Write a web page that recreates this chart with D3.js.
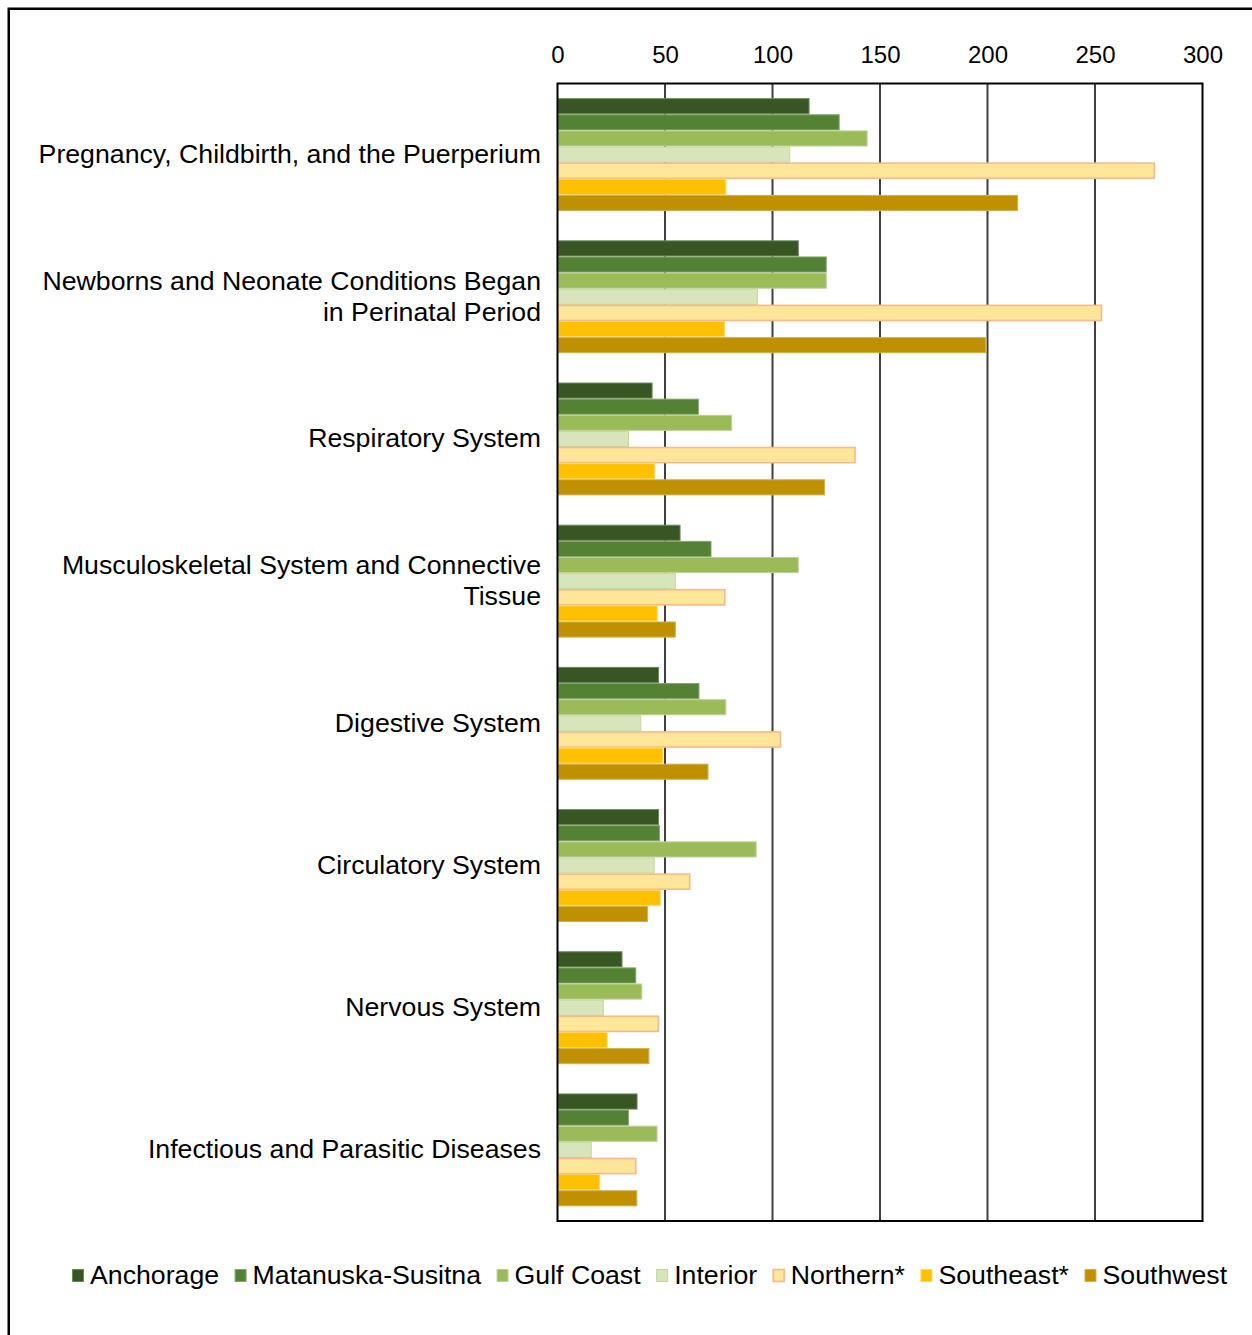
<!DOCTYPE html>
<html>
<head>
<meta charset="utf-8">
<script src="https://cdn.jsdelivr.net/npm/d3@7"></script>
<style>
  html, body { margin: 0; padding: 0; background: #fff; }
  svg { display: block; font-family: "Liberation Sans", Arial, sans-serif; }
</style>
</head>
<body>
<script>
// Discharge categories (top to bottom); "\n" marks a line break in the label
const categories = [
  "Pregnancy, Childbirth, and the Puerperium",
  "Newborns and Neonate Conditions Began\nin Perinatal Period",
  "Respiratory System",
  "Musculoskeletal System and Connective\nTissue",
  "Digestive System",
  "Circulatory System",
  "Nervous System",
  "Infectious and Parasitic Diseases"
];

const regions = ["Anchorage", "Matanuska-Susitna", "Gulf Coast", "Interior", "Northern*", "Southeast*", "Southwest"];

// Values per region, in category order
const anchorage   = [117, 112, 44, 57, 47, 47, 30, 37];
const matSu       = [131, 125, 65.5, 71.4, 65.8, 47.4, 36.4, 33];
const gulfCoast   = [144, 125, 81, 112, 78.3, 92.4, 39.2, 46.3];
const interior    = [108, 93, 33, 54.8, 38.7, 45, 21.3, 15.7];
const northern    = [277.6, 253, 138.4, 77.8, 103.7, 61.5, 46.9, 36.4];
const southeast   = [78.3, 77.7, 45.2, 46.4, 49, 47.8, 23.1, 19.6];
const southwest   = [214, 199.2, 124.2, 54.8, 70, 41.9, 42.5, 36.9];

const xTicks = [0, 50, 100, 150, 200, 250, 300];

const fills   = ["#375623", "#548235", "#9BBB59", "#D8E4BC", "#FFE699", "#FFC000", "#BF9000"];
const strokes = ["#6b8a5a", "#86a56c", "#bdd29a", "#c4d79b", "#F8B98A", "#ffd966", "#d4b04d"];

const seriesValues = [anchorage, matSu, gulfCoast, interior, northern, southeast, southwest];

const W = 1252, H = 1335;
const plot = { left: 557.5, right: 1202.5, top: 83.5, bottom: 1221 };
const labelSize = 26.7;

const svg = d3.select("body").append("svg")
  .attr("width", W).attr("height", H);

// Outer frame
svg.append("rect")
  .attr("x", 8.75).attr("y", 8.75)
  .attr("width", W + 20).attr("height", H + 20)
  .attr("fill", "none").attr("stroke", "#000").attr("stroke-width", 2.5);

const x = d3.scaleLinear().domain([0, 300]).range([plot.left, plot.right]);

const y0 = d3.scaleBand().domain(d3.range(categories.length))
  .range([plot.top, plot.bottom])
  .paddingInner(0.206).paddingOuter(0.103);

const y1 = d3.scaleBand().domain(d3.range(regions.length))
  .range([0, y0.bandwidth()]);

// Vertical gridlines
svg.append("g").selectAll("line")
  .data(xTicks.filter(t => t > 0 && t < 300))
  .join("line")
  .attr("x1", d => x(d)).attr("x2", d => x(d))
  .attr("y1", plot.top).attr("y2", plot.bottom)
  .attr("stroke", "#404040").attr("stroke-width", 2);

// Bars
const groups = svg.append("g").selectAll("g")
  .data(categories.map((c, i) => i))
  .join("g")
  .attr("transform", i => `translate(0,${y0(i)})`);

groups.selectAll("rect")
  .data(i => seriesValues.map((vals, s) => ({ s, v: vals[i] })))
  .join("rect")
  .attr("x", x(0) + 0.5)
  .attr("y", d => y1(d.s) + 0.5)
  .attr("width", d => x(d.v) - x(0) - 0.5)
  .attr("height", y1.bandwidth() - 1)
  .attr("fill", d => fills[d.s])
  .attr("stroke", d => strokes[d.s])
  .attr("stroke-width", d => d.s === 4 ? 1.6 : 1);

// Plot frame
svg.append("rect")
  .attr("x", plot.left).attr("y", plot.top)
  .attr("width", plot.right - plot.left).attr("height", plot.bottom - plot.top)
  .attr("fill", "none").attr("stroke", "#000").attr("stroke-width", 2);

// Top axis labels
const xAxis = d3.axisTop(x).tickValues(xTicks).tickSize(0).tickPadding(0);
const gx = svg.append("g")
  .attr("transform", `translate(0,${plot.top - 21})`)
  .call(xAxis);
gx.select(".domain").remove();
gx.selectAll("text")
  .attr("font-size", 24)
  .attr("font-family", "Liberation Sans, Arial, sans-serif")
  .attr("fill", "#000")
  .attr("dy", 0);

// Category labels
const lineH = 31;
svg.append("g").selectAll("text")
  .data(categories.map((c, i) => ({ c, i })))
  .join("text")
  .attr("text-anchor", "end")
  .attr("font-size", labelSize)
  .attr("fill", "#000")
  .each(function(d) {
    const lines = d.c.split("\n");
    const cy = y0(d.i) + y0.bandwidth() / 2;
    const firstY = cy - (lines.length - 1) * lineH / 2 + 8.5;
    d3.select(this).selectAll("tspan")
      .data(lines)
      .join("tspan")
      .attr("x", 541)
      .attr("y", (l, k) => firstY + k * lineH)
      .text(l => l);
  });

// Legend
const legend = svg.append("g");
let lx = 72;
const ly = 1275;
regions.forEach((r, s) => {
  legend.append("rect")
    .attr("x", lx + 0.5).attr("y", ly - 6 + 0.5)
    .attr("width", 11).attr("height", 12)
    .attr("fill", fills[s]).attr("stroke", strokes[s])
    .attr("stroke-width", s === 4 ? 1.6 : 1);
  const t = legend.append("text")
    .attr("x", lx + 18).attr("y", ly + 9)
    .attr("font-size", labelSize).attr("fill", "#000")
    .text(r);
  lx += 18 + t.node().getComputedTextLength() + 15.5;
});
</script>
</body>
</html>
